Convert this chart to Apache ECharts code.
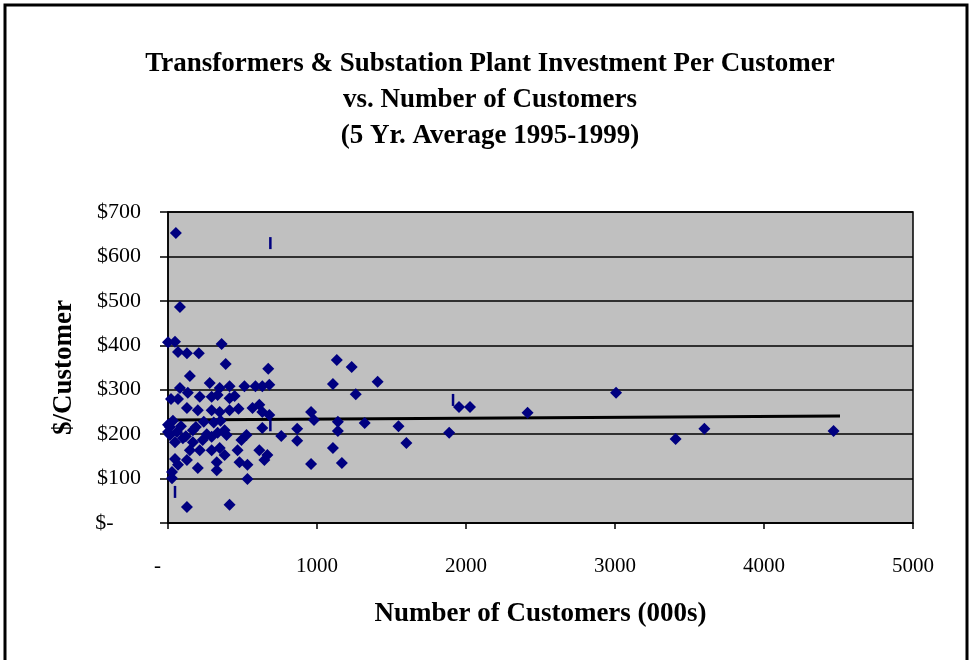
<!DOCTYPE html>
<html><head><meta charset="utf-8">
<script src="https://cdn.jsdelivr.net/npm/echarts@6/dist/echarts.min.js"></script>
<style>html,body{margin:0;padding:0;background:#fff;}#main{width:973px;height:660px;}</style>
</head><body><div id="main"></div>
<script>
// customers (000s) and $/customer per utility
var custX = [53,80,0,47,67,127,207,360,387,673,
  147,280,413,513,587,633,680,80,347,133,213,293,333,413,447,20,67,127,200,293,347,413,473,567,613,633,680,
  13,13,47,100,167,187,233,293,333,380,393,527,493,633,760,147,213,293,347,380,467,613,667,647,47,67,127,327,480,533,200,327,27,27,533,127,413,
  0,0,60,167,33,87,120,260,240,307,353,
  1133,1233,1107,1407,1260,960,980,1140,1320,1547,867,1140,867,1600,1107,960,1167,
  1953,2027,1887,2413,3007,3407,3600,4467];
var costY = [653,486,407,408,385,382,382,403,358,347,
  331,315,308,308,308,308,311,304,304,293,284,284,288,281,286,279,279,259,254,254,250,254,257,259,266,250,243,
  216,198,182,191,209,216,187,194,203,209,198,198,187,214,196,164,164,164,169,153,164,164,153,142,144,131,142,137,137,131,124,119,115,101,99,36,41,
  221,205,205,182,230,218,195,200,228,226,230,
  367,351,313,318,290,250,232,228,225,218,212,207,185,180,169,133,135,
  261,261,203,248,293,189,212,207];
// odd dash markers
var dashX = [687,47,687,1913];
var dashY = [630,70,220,277];
// linear trend
var trendX = [0,4510];
var trendY = [232,241];

var pts = custX.map(function (x, i) { return [x, costY[i]]; });
var dashes = dashX.map(function (x, i) { return [x, dashY[i]]; });
var trend = trendX.map(function (x, i) { return [x, trendY[i]]; });

var serif = '"Liberation Serif", "Times New Roman", serif';
var chart = echarts.init(document.getElementById('main'));
chart.setOption({
  backgroundColor: '#fff',
  animation: false,
  title: {
    text: 'Transformers & Substation Plant Investment Per Customer\nvs. Number of Customers\n(5 Yr. Average 1995-1999)',
    left: 485, top: 41, textAlign: 'center',
    textStyle: {fontFamily: serif, fontWeight: 'bold', fontSize: 27, lineHeight: 36, color: '#000'}
  },
  graphic: [{
    type: 'rect', shape: {x: 5, y: 5, width: 962, height: 665},
    style: {fill: 'none', stroke: '#000', lineWidth: 3}, silent: true
  }],
  grid: {left: 168, top: 212, right: 60, bottom: 137, show: true, backgroundColor: '#c0c0c0', borderColor: '#000', borderWidth: 1.5},
  xAxis: {
    type: 'value', min: 0, max: 5000, interval: 1000,
    name: 'Number of Customers (000s)', nameLocation: 'middle', nameGap: 78,
    nameTextStyle: {fontFamily: serif, fontWeight: 'bold', fontSize: 27, color: '#000'},
    axisLine: {lineStyle: {color: '#000', width: 1.5}},
    axisTick: {show: true, length: 6, lineStyle: {color: '#000', width: 1.5}},
    splitLine: {show: false},
    axisLabel: {margin: 33, fontFamily: serif, fontSize: 21, color: '#000',
      formatter: function (v) { return v === 0 ? '-    ' : String(v); }}
  },
  yAxis: {
    type: 'value', min: 0, max: 700, interval: 100,
    name: '$/Customer', nameLocation: 'middle', nameGap: 90,
    nameTextStyle: {fontFamily: serif, fontWeight: 'bold', fontSize: 27, color: '#000'},
    axisLine: {lineStyle: {color: '#000', width: 1.5}},
    axisTick: {show: true, length: 8, lineStyle: {color: '#000', width: 1.5}},
    splitLine: {show: true, lineStyle: {color: '#000', width: 1.5}},
    axisLabel: {margin: 27, fontFamily: serif, fontSize: 22, color: '#000',
      formatter: function (v) { return v === 0 ? '$-     ' : '$' + v; }}
  },
  series: [
    {type: 'line', data: trend, symbol: 'none', lineStyle: {color: '#000', width: 3}, z: 3},
    {type: 'scatter', data: pts, symbol: 'diamond', symbolSize: 12, itemStyle: {color: '#000080', opacity: 1}, z: 4},
    {type: 'scatter', data: dashes, symbol: 'rect', symbolSize: [2.5, 12], itemStyle: {color: '#000080', opacity: 1}, z: 4}
  ]
});
</script></body></html>
